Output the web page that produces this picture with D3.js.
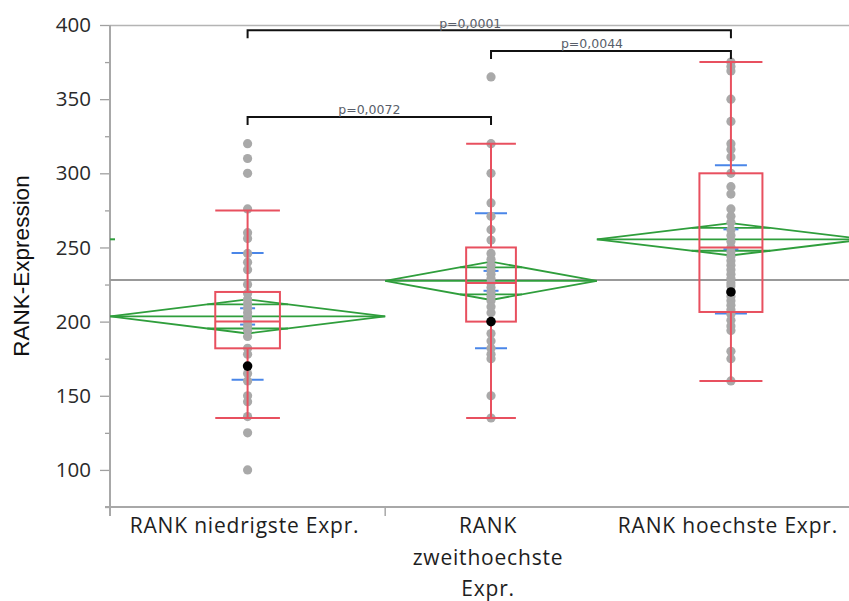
<!DOCTYPE html>
<html>
<head>
<meta charset="utf-8">
<script src="https://cdn.jsdelivr.net/npm/d3@7/dist/d3.min.js"></script>
<style>
  body { margin: 0; background: #fff; }
  svg { display: block; }
</style>
</head>
<body>
<svg id="chart" width="849" height="601"></svg>
<script>
// ---- data -------------------------------------------------------------
const groupLabelLines = [
  ["RANK niedrigste Expr."],
  ["RANK", "zweithoechste", "Expr."],
  ["RANK hoechste Expr."]
];
// group sizes set the width of each group's band (and diamond)
const groupN = [39, 30, 38];

const pointsLow  = [320, 310, 300, 276, 260, 256, 246, 240, 235, 225, 219, 215, 212, 209, 206, 203,
                    200, 197, 194, 190, 182, 178, 165, 160, 150, 146, 136, 125, 100];
const pointsMid  = [365, 320, 300, 280, 271, 262, 255, 246, 242, 238, 235, 232, 229, 226, 223, 220,
                    217, 214, 210, 206, 192, 187, 182, 178, 175, 150, 135];
const pointsHigh = [375, 372, 369, 350, 335, 320, 316, 311, 300, 291, 286, 276, 271, 267, 262, 258,
                    254, 250, 247, 244, 241, 238, 235, 232, 229, 226, 224, 217, 214, 211, 208, 205,
                    201, 197, 194, 180, 175, 160];
const highlighted = [170, 200, 220];

// means with 95% CI (diamonds), standard error and standard deviation
const means   = [203.5, 227.5, 255.5];
const ciHalf  = [11.5, 12.9, 10.9];
const stdErr  = [5.5, 6.7, 6.7];
const stdDev  = [42.7, 45.5, 50.0];
// box plots
const q1          = [182, 200, 206.5];
const medians     = [200, 226, 250];
const q3          = [220, 250, 300];
const whiskerLow  = [135, 135, 160];
const whiskerHigh = [275, 320, 375];

const grandMean = 228;

const yTicks      = [100, 150, 200, 250, 300, 350, 400];
const yMinorTicks = [75, 125, 175, 225, 275, 325, 375];

// pairwise comparisons: group indices, bracket level (data units), label
const compA     = [0, 1, 0];
const compB     = [1, 2, 2];
const compLevel = [338, 382.5, 396.5];
const compLabel = ["p=0,0072", "p=0,0044", "p=0,0001"];

// ---- layout -----------------------------------------------------------
const svg = d3.select("#chart");
const plotLeft = 110, plotTop = 25, plotBottom = 507, plotRight = 849;
const pxPerCase = 7.056;

const cum = [0];
groupN.forEach(n => cum.push(cum[cum.length - 1] + n));
const x = d3.scaleLinear().domain([0, cum[cum.length - 1]])
  .range([plotLeft, plotLeft + pxPerCase * cum[cum.length - 1]]);
const y = d3.scaleLinear().domain([75, 400]).range([plotBottom, plotTop]);

const bands = groupN.map((n, i) => {
  const x0 = x(cum[i]), x1 = x(cum[i + 1]);
  return { x0, x1, c: (x0 + x1) / 2, w: x1 - x0 };
});

const GREEN = "#2f9e3c", RED = "#e8505f", BLUE = "#4a86e8", GRAY = "#a9a9a9";

svg.append("defs").append("clipPath").attr("id", "plotClip")
  .append("rect").attr("x", plotLeft).attr("y", 0)
  .attr("width", plotRight - plotLeft).attr("height", plotBottom);

// frame top
svg.append("line")
  .attr("x1", plotLeft).attr("x2", plotRight)
  .attr("y1", plotTop + 0.5).attr("y2", plotTop + 0.5)
  .attr("stroke", "#b4b4b4").attr("stroke-width", 1.5);

// ---- y axis -----------------------------------------------------------
const yAxis = d3.axisLeft(y).tickValues(yTicks).tickSize(10).tickPadding(9);
const yMinor = d3.axisLeft(y).tickValues(yMinorTicks).tickSize(5).tickFormat("");
const ga = svg.append("g").attr("transform", `translate(${plotLeft},0)`).call(yAxis);
const gm = svg.append("g").attr("transform", `translate(${plotLeft},0)`).call(yMinor);
[ga, gm].forEach(g => {
  g.select(".domain").remove();
  g.selectAll(".tick line").attr("stroke", "#a0a0a0").attr("stroke-width", 1.3);
});
ga.selectAll(".tick text")
  .attr("fill", "#2a2a2a")
  .style("font-family", "'Open Sans', sans-serif")
  .style("font-size", "20.5px");
svg.append("line")
  .attr("x1", plotLeft).attr("x2", plotLeft)
  .attr("y1", plotTop).attr("y2", plotBottom + 9)
  .attr("stroke", "#a8a8a8").attr("stroke-width", 2);

svg.append("text")
  .attr("transform", `translate(29,266) rotate(-90)`)
  .attr("text-anchor", "middle")
  .style("font-family", "'Liberation Sans', Arial, sans-serif")
  .style("font-size", "22.5px")
  .attr("fill", "#111")
  .text("RANK-Expression");

// ---- x axis -----------------------------------------------------------
svg.append("line")
  .attr("x1", plotLeft - 5).attr("x2", plotRight)
  .attr("y1", plotBottom).attr("y2", plotBottom)
  .attr("stroke", "#a8a8a8").attr("stroke-width", 2);
svg.append("line")
  .attr("x1", bands[0].x1).attr("x2", bands[0].x1)
  .attr("y1", plotBottom).attr("y2", plotBottom + 9)
  .attr("stroke", "#a8a8a8").attr("stroke-width", 1.5);

const xl = svg.append("g")
  .style("font-family", "'Open Sans', sans-serif")
  .style("font-size", "21px")
  .style("letter-spacing", "0.8px")
  .attr("fill", "#1e1e1e")
  .attr("text-anchor", "middle");
groupLabelLines.forEach((lines, i) => {
  lines.forEach((s, k) => {
    xl.append("text").attr("x", bands[i].c - 3).attr("y", 533 + k * 31.5).text(s);
  });
});

// ---- plot body --------------------------------------------------------
const body = svg.append("g").attr("clip-path", "url(#plotClip)");

// grand mean
body.append("line")
  .attr("x1", plotLeft).attr("x2", plotRight)
  .attr("y1", y(grandMean)).attr("y2", y(grandMean))
  .attr("stroke", "#999").attr("stroke-width", 2);

// mean diamonds with overlap marks
bands.forEach((b, i) => {
  const g = body.append("g").attr("fill", "none").attr("stroke", GREEN).attr("stroke-width", 1.8);
  const top = y(means[i] + ciHalf[i]), bot = y(means[i] - ciHalf[i]), mid = y(means[i]);
  g.append("path").attr("d", d3.line()([[b.x0, mid], [b.c, top], [b.x1, mid], [b.c, bot], [b.x0, mid]]));
  g.append("line").attr("x1", b.x0).attr("x2", b.x1).attr("y1", mid).attr("y2", mid);
  const hw = (b.w / 2) * (1 - Math.SQRT1_2);
  [1, -1].forEach(s => {
    const yy = y(means[i] + s * ciHalf[i] * Math.SQRT1_2);
    g.append("line").attr("x1", b.c - hw).attr("x2", b.c + hw).attr("y1", yy).attr("y2", yy);
  });
});

// small mean marker at the left edge
body.append("line")
  .attr("x1", plotLeft).attr("x2", plotLeft + 5)
  .attr("y1", y(means[2])).attr("y2", y(means[2]))
  .attr("stroke", GREEN).attr("stroke-width", 2);

// std dev lines and mean error bars
bands.forEach((b, i) => {
  const g = body.append("g").attr("stroke", BLUE).attr("stroke-width", 2);
  [1, -1].forEach(s => {
    const yy = y(means[i] + s * stdDev[i]);
    g.append("line").attr("x1", b.c - 16).attr("x2", b.c + 16).attr("y1", yy).attr("y2", yy);
  });
  const e1 = y(means[i] + stdErr[i]), e0 = y(means[i] - stdErr[i]);
  g.append("line").attr("x1", b.c).attr("x2", b.c).attr("y1", e1).attr("y2", e0);
  [e1, e0].forEach(yy => {
    g.append("line").attr("x1", b.c - 7.5).attr("x2", b.c + 7.5).attr("y1", yy).attr("y2", yy);
  });
});

// data points
const groupsPts = [pointsLow, pointsMid, pointsHigh];
groupsPts.forEach((pts, i) => {
  body.append("g").selectAll("circle").data(pts).join("circle")
    .attr("cx", bands[i].c).attr("cy", d => y(d)).attr("r", 4.6)
    .attr("fill", GRAY);
});

// box plots
bands.forEach((b, i) => {
  const bw = b.w * 0.235;
  const g = body.append("g").attr("stroke", RED).attr("stroke-width", 2).attr("fill", "none");
  g.append("rect")
    .attr("x", b.c - bw / 2).attr("width", bw)
    .attr("y", y(q3[i])).attr("height", y(q1[i]) - y(q3[i]));
  g.append("line").attr("x1", b.c - bw / 2).attr("x2", b.c + bw / 2)
    .attr("y1", y(medians[i])).attr("y2", y(medians[i]));
  g.append("line").attr("x1", b.c).attr("x2", b.c).attr("y1", y(q3[i])).attr("y2", y(whiskerHigh[i]));
  g.append("line").attr("x1", b.c).attr("x2", b.c).attr("y1", y(q1[i])).attr("y2", y(whiskerLow[i]));
  [whiskerHigh[i], whiskerLow[i]].forEach(v => {
    g.append("line").attr("x1", b.c - bw / 2).attr("x2", b.c + bw / 2)
      .attr("y1", y(v)).attr("y2", y(v));
  });
});

// highlighted rows
body.append("g").selectAll("circle").data(highlighted).join("circle")
  .attr("cx", (d, i) => bands[i].c).attr("cy", d => y(d)).attr("r", 4.8)
  .attr("fill", "#000");

// ---- comparison brackets ---------------------------------------------
compA.forEach((a, k) => {
  const xa = bands[a].c, xb = bands[compB[k]].c, yy = y(compLevel[k]);
  // labels of brackets that reach the last group sit a little left of centre
  const shift = compB[k] === groupN.length - 1 ? -19 : 0;
  svg.append("path")
    .attr("d", d3.line()([[xa, yy + 8], [xa, yy], [xb, yy], [xb, yy + 8]]))
    .attr("fill", "none").attr("stroke", "#111").attr("stroke-width", 2);
  svg.append("text")
    .attr("x", (xa + xb) / 2 + shift).attr("y", yy - 2.5)
    .attr("text-anchor", "middle")
    .style("font-family", "'DejaVu Sans', sans-serif")
    .style("font-size", "12.5px")
    .attr("fill", "#585e6a")
    .text(compLabel[k]);
});
</script>
</body>
</html>
